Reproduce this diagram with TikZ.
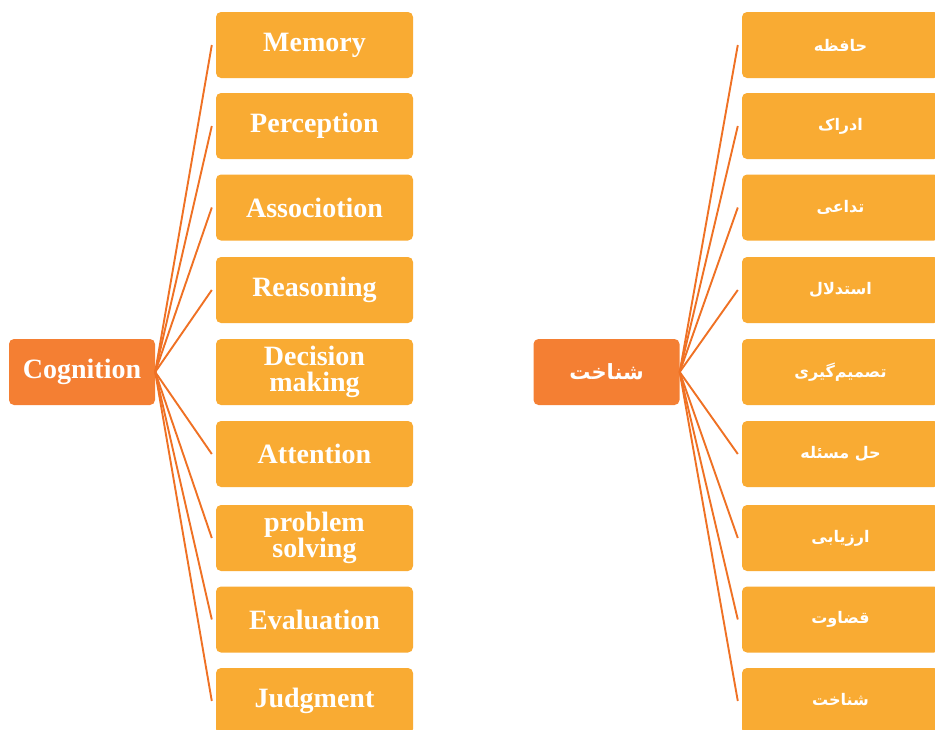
\documentclass[tikz,border=0pt]{standalone}
\usepackage{fontspec}
\setmainfont{Liberation Serif}
\newfontfamily\fafont[Script=Arabic]{DejaVu Sans}
\TeXXeTstate=1
\definecolor{boxc}{HTML}{F9AB33}
\definecolor{hubc}{HTML}{F47F33}
\definecolor{linec}{HTML}{EF7124}
\begin{document}
\begin{tikzpicture}[x=1pt,y=-1pt,
  leaf/.style={fill=boxc,rounded corners=5pt,minimum width=197pt,minimum height=66pt,inner sep=0pt,text=white,align=center},
  en/.style={leaf,font=\fontsize{28}{26}\selectfont\bfseries},
  fa/.style={leaf,font=\fontsize{16}{18}\selectfont\fafont\bfseries},
  hub/.style={fill=hubc,rounded corners=5pt,minimum width=146pt,minimum height=66pt,inner sep=0pt,text=white},
  con/.style={draw=linec,line width=1.9pt}]
\useasboundingbox (0,0) rectangle (935,729);
\clip (0,0) rectangle (935,729);
% left
\node[hub,font=\fontsize{28}{30}\selectfont\bfseries] (cog) at (82,372) {Cognition};
\node[en] (l1) at (314.5,45) {Memory};
\node[en] (l2) at (314.5,126) {Perception};
\node[en] (l3) at (314.5,207.5) {Associotion};
\node[en] (l4) at (314.5,290) {Reasoning};
\node[en] (l5) at (314.5,372) {Decision\\making};
\node[en] (l6) at (314.5,454) {Attention};
\node[en] (l7) at (314.5,538) {problem\\solving};
\node[en] (l8) at (314.5,619.5) {Evaluation};
\node[en] (l9) at (314.5,701) {\raisebox{3pt}{Judgment}};
\foreach \i in {1,2,3,4,6,7,8,9} \draw[con] (cog.east) -- ([xshift=-4pt]l\i.west);
% right
\node[hub,font=\fontsize{21}{26}\selectfont\fafont\bfseries] (sh) at (606.5,372) {\beginR شناخت\endR};
\node[fa] (r1) at (840.5,45) {\beginR حافظه\endR};
\node[fa] (r2) at (840.5,126) {\beginR ادراک\endR};
\node[fa] (r3) at (840.5,207.5) {\beginR تداعی\endR};
\node[fa] (r4) at (840.5,290) {\beginR استدلال\endR};
\node[fa] (r5) at (840.5,372) {\beginR تصمیم‌گیری\endR};
\node[fa] (r6) at (840.5,454) {\beginR حل مسئله\endR};
\node[fa] (r7) at (840.5,538) {\beginR ارزیابی\endR};
\node[fa] (r8) at (840.5,619.5) {\beginR قضاوت\endR};
\node[fa] (r9) at (840.5,701) {\raisebox{3pt}{\beginR شناخت\endR}};
\foreach \i in {1,2,3,4,6,7,8,9} \draw[con] (sh.east) -- ([xshift=-4pt]r\i.west);
\end{tikzpicture}
\end{document}
